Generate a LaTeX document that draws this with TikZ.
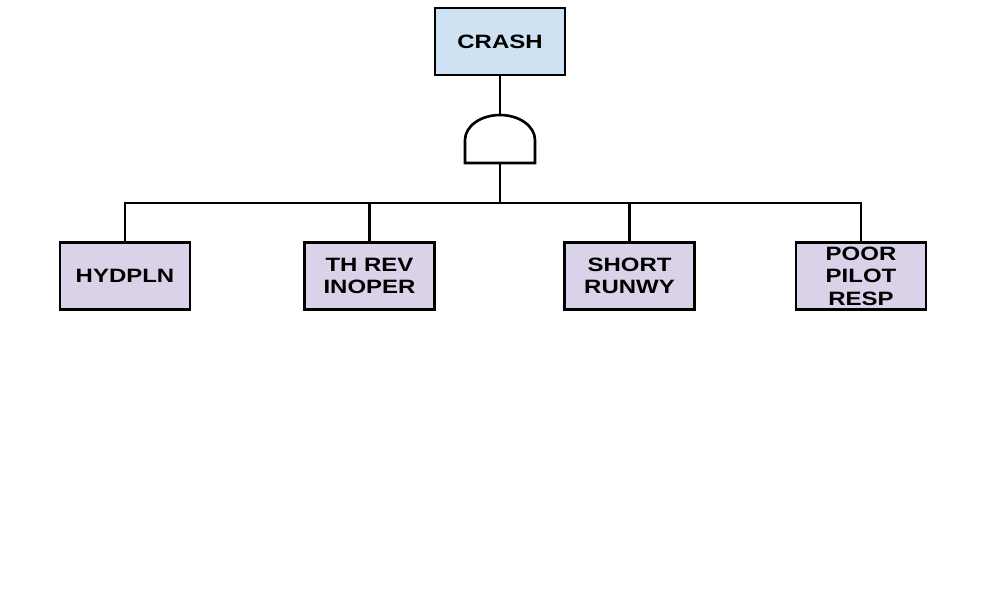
\documentclass[tikz,border=0pt]{standalone}
\usepackage{fontspec}
\setmainfont{Liberation Sans}
\newfontfamily\evtfont{Liberation Sans}[FakeStretch=1.24]
\usepackage{tikz}
\usetikzlibrary{positioning, calc}
\definecolor{topblue}{HTML}{CFE2F3}
\definecolor{basiclilac}{HTML}{D9D2E9}

\begin{document}
\begin{tikzpicture}[
  x=0.02cm, y=-0.02cm,
  evt/.style={rectangle, draw=black, line width=1.3pt, minimum width=2.6cm, minimum height=1.34cm, align=center, inner sep=1pt, font=\evtfont\fontsize{11}{12.8}\selectfont\bfseries},
  top/.style={evt, fill=topblue},
  basic/.style={evt, fill=basiclilac},
  wire/.style={line width=1.5pt, color=black}
]
\useasboundingbox (0,0) rectangle (1000,600);

% Top event
\node[top] (crash) at (500,41.5) {CRASH};

% AND gate
\coordinate (gout) at (500,115);
\coordinate (gin) at (500,163);
\draw[wire] (465,163) -- (465,140) arc[start angle=180, end angle=360, x radius=35, y radius=25] -- (535,163) -- cycle;
\draw[wire] (crash.south) -- (gout);

% Bus
\coordinate (bus) at (500,203);
\draw[wire] (gin) -- (bus);

% Basic events
\node[basic] (hyd) at (125,276) {HYDPLN};
\node[basic] (threv) at (369.5,276) {TH REV\\ INOPER};
\node[basic] (short) at (629.5,276) {SHORT\\ RUNWY};
\node[basic] (pilot) at (861,276) {POOR\\ PILOT\\ RESP};

\draw[wire] (hyd.north) |- (bus);
\draw[wire] (threv.north) |- (bus);
\draw[wire] (short.north) |- (bus);
\draw[wire] (pilot.north) |- (bus);

\end{tikzpicture}
\end{document}
